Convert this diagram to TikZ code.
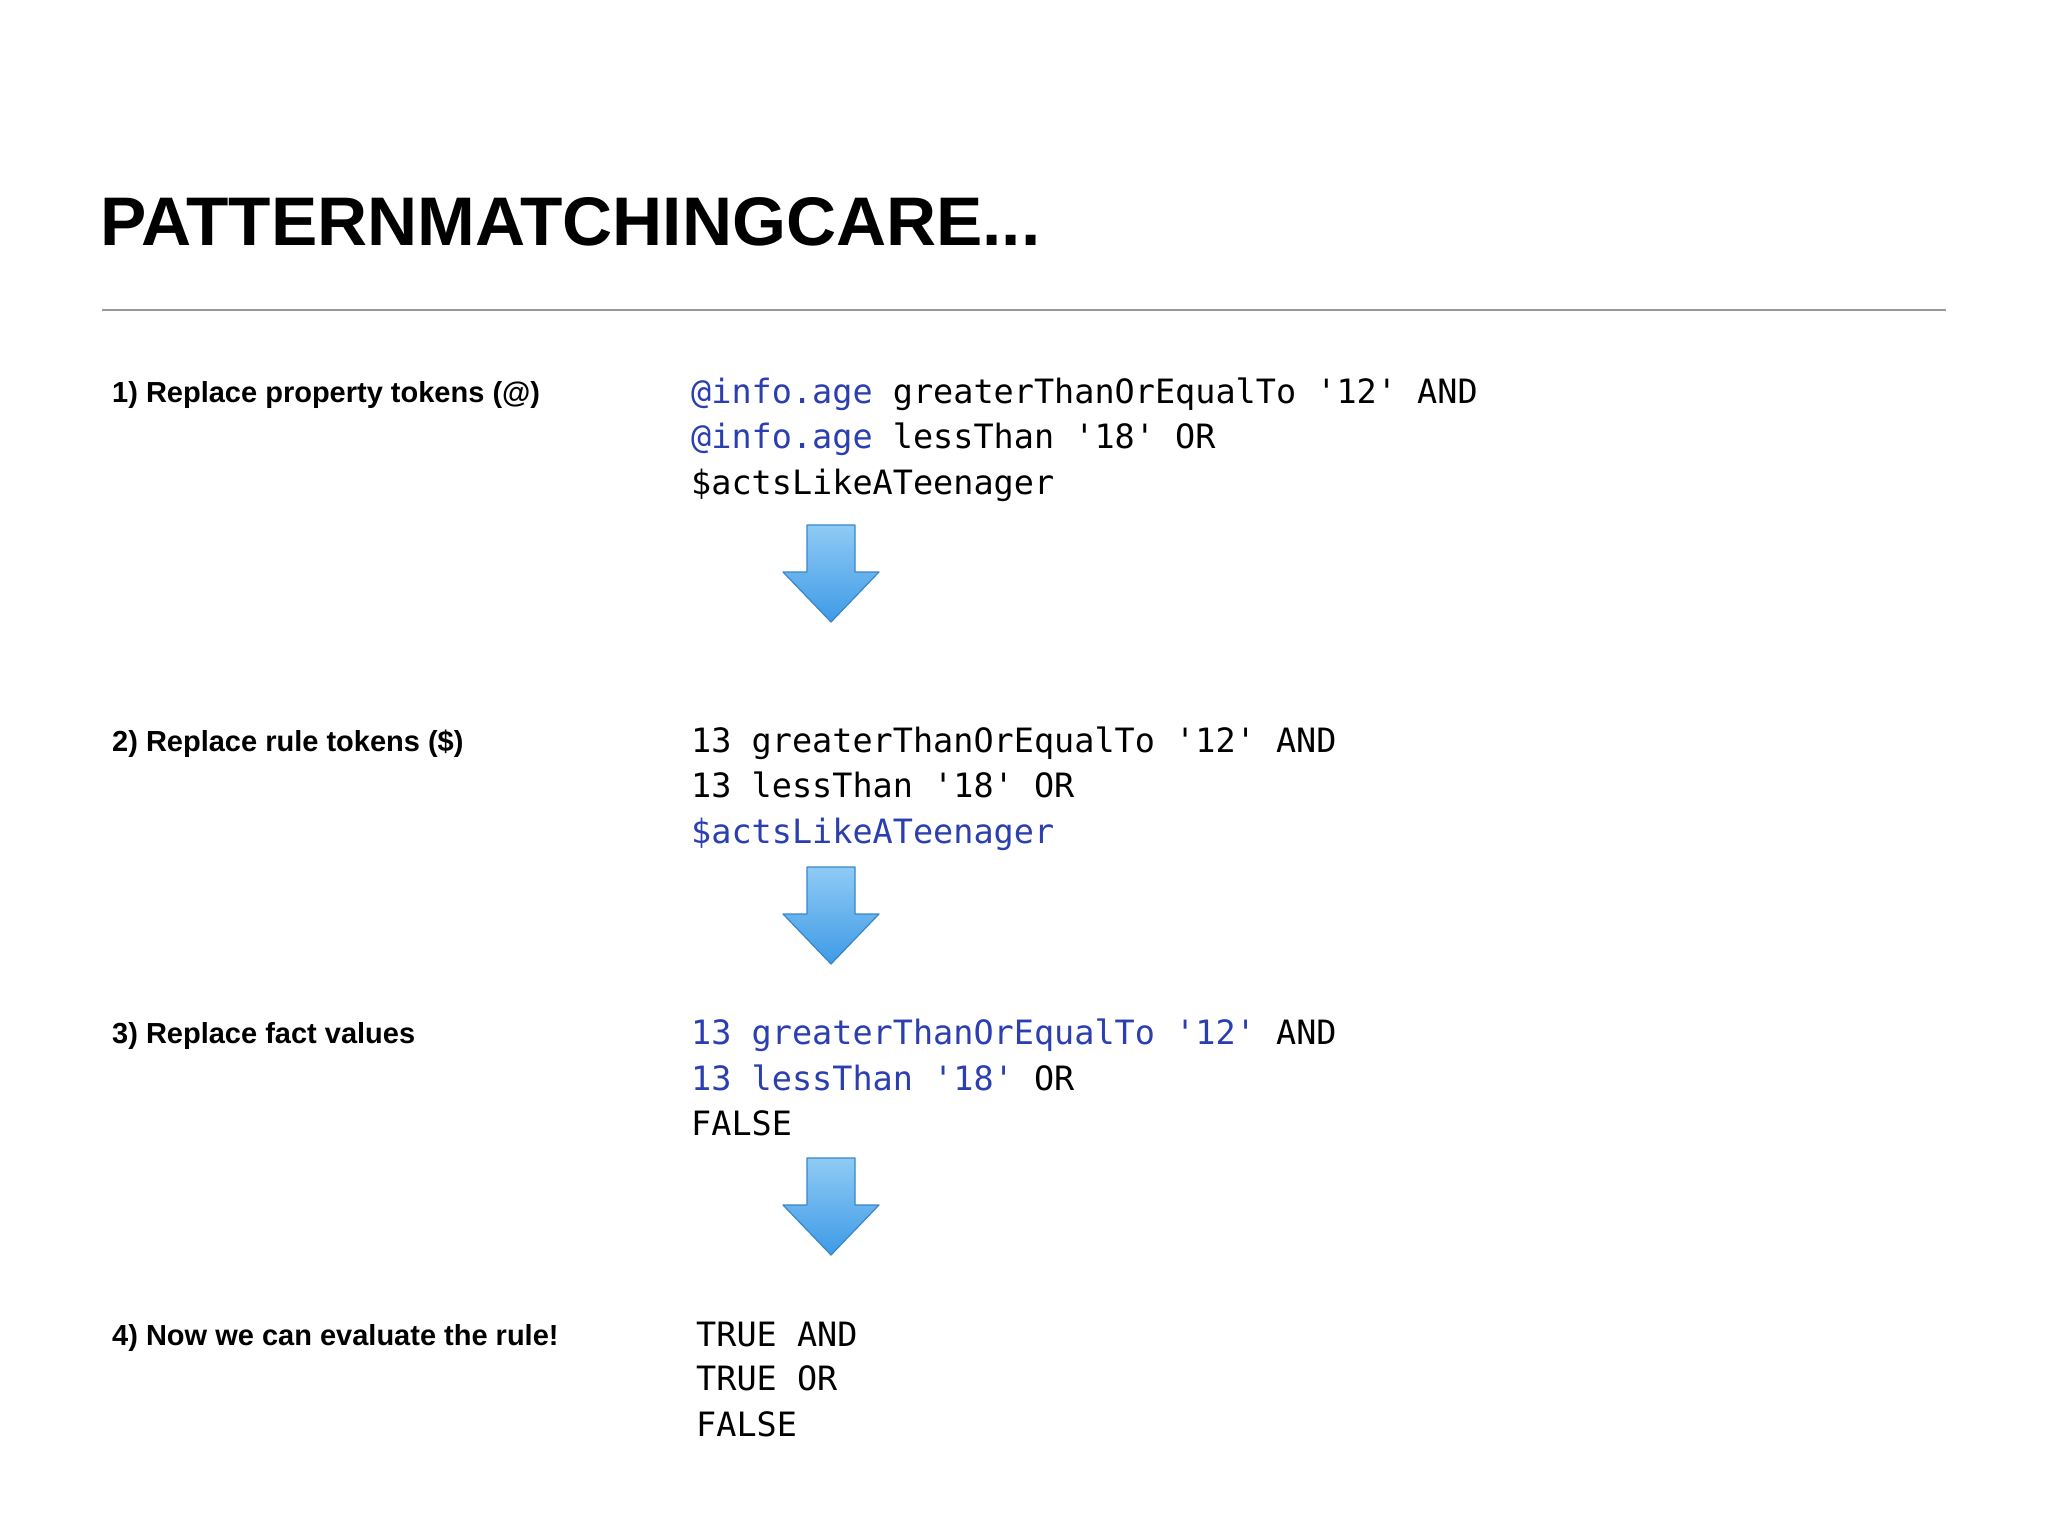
\documentclass[tikz,border=0pt]{standalone}
\usepackage{fontspec}
\setmainfont{Liberation Sans}
\newfontfamily\codefont{DejaVu Sans Mono}
\definecolor{cblue}{HTML}{2B3FB0}
\definecolor{abluet}{HTML}{8FCBF5}
\definecolor{ablueb}{HTML}{3E9AE6}
\definecolor{aedge}{HTML}{3A86C8}
\begin{document}
\begin{tikzpicture}[x=1pt,y=-1pt,
  lab/.style={anchor=base west,inner sep=0,font=\fontsize{29}{34}\selectfont\bfseries},
  code/.style={anchor=base west,inner sep=0,font=\fontsize{33.5}{40}\selectfont\codefont},
  ttl/.style={anchor=base west,inner sep=0}]
\useasboundingbox (0,0) rectangle (2048,1536);
\fill[white] (0,0) rectangle (2048,1536);
\node[ttl] (title) at (100,245) {\resizebox{940pt}{48pt}{\bfseries PATTERNMATCHINGCARE...}};
\coordinate (l1) at (102,310); \coordinate (l2) at (1946,310);
\draw[gray!80,line width=1.3pt] (l1) -- (l2);
\node[lab] (s1) at (112,402) {1) Replace property tokens (@)};
\node[lab] (s2) at (112,751) {2) Replace rule tokens (\$)};
\node[lab] (s3) at (112,1043) {3) Replace fact values};
\node[lab] (s4) at (112,1345) {4) Now we can evaluate the rule!};
\node[code] (a1) at (691,403) {\textcolor{cblue}{@info.age} greaterThanOrEqualTo '12' AND};
\node[code] (a2) at (691,448) {\textcolor{cblue}{@info.age} lessThan '18' OR};
\node[code] (a3) at (691,494) {\$actsLikeATeenager};
\node[code] (b1) at (691,752) {13 greaterThanOrEqualTo '12' AND};
\node[code] (b2) at (691,797) {13 lessThan '18' OR};
\node[code,text=cblue] (b3) at (691,843) {\$actsLikeATeenager};
\node[code] (c1) at (691,1044) {\textcolor{cblue}{13 greaterThanOrEqualTo '12'} AND};
\node[code] (c2) at (691,1090) {\textcolor{cblue}{13 lessThan '18'} OR};
\node[code] (c3) at (691,1135) {FALSE};
\node[code] (d1) at (696,1346) {TRUE AND};
\node[code] (d2) at (696,1390) {TRUE OR};
\node[code] (d3) at (696,1436) {FALSE};
\foreach \t in {525,867,1158}{
  \shade[top color=abluet,bottom color=ablueb,draw=aedge,line width=1.2pt,line join=round]
   (807,\t) -- (855,\t) -- (855,\t+47) -- (879,\t+47) -- (831,\t+97) -- (783,\t+47) -- (807,\t+47) -- cycle;
}
\end{tikzpicture}
\end{document}
